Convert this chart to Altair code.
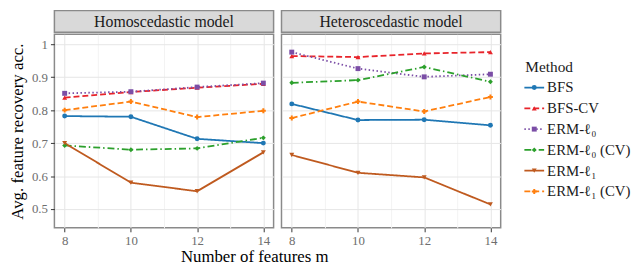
import altair as alt
import pandas as pd

methods = ["BFS", "BFS-CV", "ERM-ℓ₀", "ERM-ℓ₀ (CV)", "ERM-ℓ₁", "ERM-ℓ₁ (CV)"]
colors = ["#1f77b4", "#e8242b", "#7b4ea6", "#2ca02c", "#bf5a1f", "#ff7f0e"]
dashes = [[1, 0], [6, 3], [1.5, 2.5], [7, 3, 1.5, 3], [1, 0], [6, 3]]
shapes = ["circle", "triangle-up", "square", "diamond", "triangle-down", "cross"]

m_values = [8, 10, 12, 14]
models = ["Homoscedastic model", "Heteroscedastic model"]

homo = {
    "BFS": [0.782, 0.780, 0.713, 0.700],
    "BFS-CV": [0.838, 0.855, 0.868, 0.880],
    "ERM-ℓ₀": [0.851, 0.856, 0.870, 0.882],
    "ERM-ℓ₀ (CV)": [0.693, 0.680, 0.684, 0.716],
    "ERM-ℓ₁": [0.700, 0.580, 0.554, 0.672],
    "ERM-ℓ₁ (CV)": [0.800, 0.826, 0.779, 0.798],
}
hetero = {
    "BFS": [0.819, 0.770, 0.771, 0.754],
    "BFS-CV": [0.964, 0.961, 0.972, 0.976],
    "ERM-ℓ₀": [0.976, 0.926, 0.901, 0.909],
    "ERM-ℓ₀ (CV)": [0.883, 0.891, 0.931, 0.886],
    "ERM-ℓ₁": [0.664, 0.610, 0.596, 0.514],
    "ERM-ℓ₁ (CV)": [0.776, 0.826, 0.796, 0.840],
}

y_ticks = [0.5, 0.6, 0.7, 0.8, 0.9, 1.0]
x_ticks = [8, 9, 10, 11, 12, 13, 14]

FONT = "Liberation Serif, 'Times New Roman', serif"
W = 222
H = 196
STRIP_H = 22


def frame(d):
    rows = []
    for meth in methods:
        for mv, v in zip(m_values, d[meth]):
            rows.append({"m": mv, "acc": v, "Method": meth})
    return pd.DataFrame(rows)


color_scale = alt.Scale(domain=methods, range=colors)
dash_scale = alt.Scale(domain=methods, range=dashes)
shape_scale = alt.Scale(domain=methods, range=shapes)


def panel(d, title, first):
    df = frame(d)
    x_axis = alt.Axis(
        values=x_ticks,
        labelExpr="datum.value % 2 == 0 ? datum.label : ''",
        tickOpacity={"condition": {"test": "datum.value % 2 == 1", "value": 0}, "value": 1},
        gridColor={"condition": {"test": "datum.value % 2 == 1", "value": "#f3f3f3"}, "value": "#e6e6e6"},
        domain=False,
        title=None,
        tickColor="#333333",
        tickSize=4,
        labelColor="#6e6e6e",
        labelFont=FONT,
        labelFontSize=13,
        labelPadding=3,
    )
    if first:
        y_axis = alt.Axis(
            values=y_ticks,
            format=".1~f",
            title="Avg. feature recovery acc.",
            titleFont=FONT,
            titleFontSize=17,
            titleFontWeight="normal",
            titleColor="#000000",
            titlePadding=5,
            domain=False,
            tickColor="#333333",
            tickSize=4,
            labelColor="#6e6e6e",
            labelFont=FONT,
            labelFontSize=13,
            labelPadding=3,
            gridColor="#e6e6e6",
        )
    else:
        y_axis = alt.Axis(
            values=y_ticks,
            labels=False,
            ticks=False,
            domain=False,
            title=None,
            gridColor="#e6e6e6",
        )
    base = alt.Chart(df).encode(
        x=alt.X("m:Q", scale=alt.Scale(domain=[7.69, 14.31], nice=False, zero=False), axis=x_axis),
        y=alt.Y("acc:Q", scale=alt.Scale(domain=[0.443, 1.03], nice=False, zero=False), axis=y_axis),
        color=alt.Color("Method:N", scale=color_scale, legend=None),
    )
    lines = base.mark_line(strokeWidth=1.8).encode(
        strokeDash=alt.StrokeDash("Method:N", scale=dash_scale, legend=None),
        detail="Method:N",
    )
    pts = base.mark_point(filled=True, size=25, opacity=1).encode(
        shape=alt.Shape("Method:N", scale=shape_scale, legend=None),
    )
    plot = alt.layer(lines, pts).properties(
        width=W, height=H,
        view=alt.ViewBackground(fill="white", stroke="#8a8a8a", strokeWidth=1.5),
    )
    strip = alt.Chart(pd.DataFrame({"label": [title]})).mark_text(
        font=FONT, fontSize=16, color="#1a1a1a", baseline="middle", align="center"
    ).encode(
        text="label:N",
        x=alt.value(W / 2),
        y=alt.value(STRIP_H / 2 + 1),
    ).properties(
        width=W, height=STRIP_H,
        view=alt.ViewBackground(fill="#d9d9d9", stroke="#8a8a8a", strokeWidth=1.5),
    )
    return alt.vconcat(strip, plot, spacing=0)


# custom legend (row index = order of entries, title first)
leg_df = pd.DataFrame({"Method": methods, "row": list(range(1, len(methods) + 1))})
title_df = pd.DataFrame({"Method": ["Method"], "row": [0]})
LEG_H = 240
y_leg = alt.Y("row:Q", axis=None,
              scale=alt.Scale(domain=[-2.7, 8.7], reverse=True, nice=False, zero=False))

leg_line = alt.Chart(leg_df).mark_rule(strokeWidth=1.8).encode(
    y=y_leg,
    x=alt.value(0),
    x2=alt.value(20),
    color=alt.Color("Method:N", scale=color_scale, legend=None),
    strokeDash=alt.StrokeDash("Method:N", scale=dash_scale, legend=None),
)
leg_pt = alt.Chart(leg_df).mark_point(filled=True, size=25, opacity=1).encode(
    y=y_leg,
    x=alt.value(10),
    color=alt.Color("Method:N", scale=color_scale, legend=None),
    shape=alt.Shape("Method:N", scale=shape_scale, legend=None),
)
leg_txt = alt.Chart(leg_df).mark_text(
    font=FONT, fontSize=15, align="left", baseline="middle", color="#1a1a1a"
).encode(y=y_leg, x=alt.value(23), text="Method:N")
leg_title = alt.Chart(title_df).mark_text(
    font=FONT, fontSize=15.5, align="left", baseline="middle", color="#1a1a1a"
).encode(y=y_leg, x=alt.value(1), text="Method:N")

legend = alt.layer(leg_line, leg_pt, leg_txt, leg_title).properties(
    width=20, height=LEG_H, view=alt.ViewBackground(stroke=None)
)

panels = alt.hconcat(
    panel(homo, models[0], True), panel(hetero, models[1], False),
    spacing=6,
).properties(
    title=alt.TitleParams(
        "Number of features m", orient="bottom", anchor="middle",
        font=FONT, fontSize=17, fontWeight="normal", color="#000000", offset=1,
    )
)

chart = alt.hconcat(panels, legend, spacing=22).properties(
    padding={"left": 0, "top": 0, "right": 1, "bottom": 1}
).configure_view(
    stroke=None
).configure_axis(
    gridWidth=1,
)

chart.save("out.html", embed_options={"renderer": "svg", "actions": False})
